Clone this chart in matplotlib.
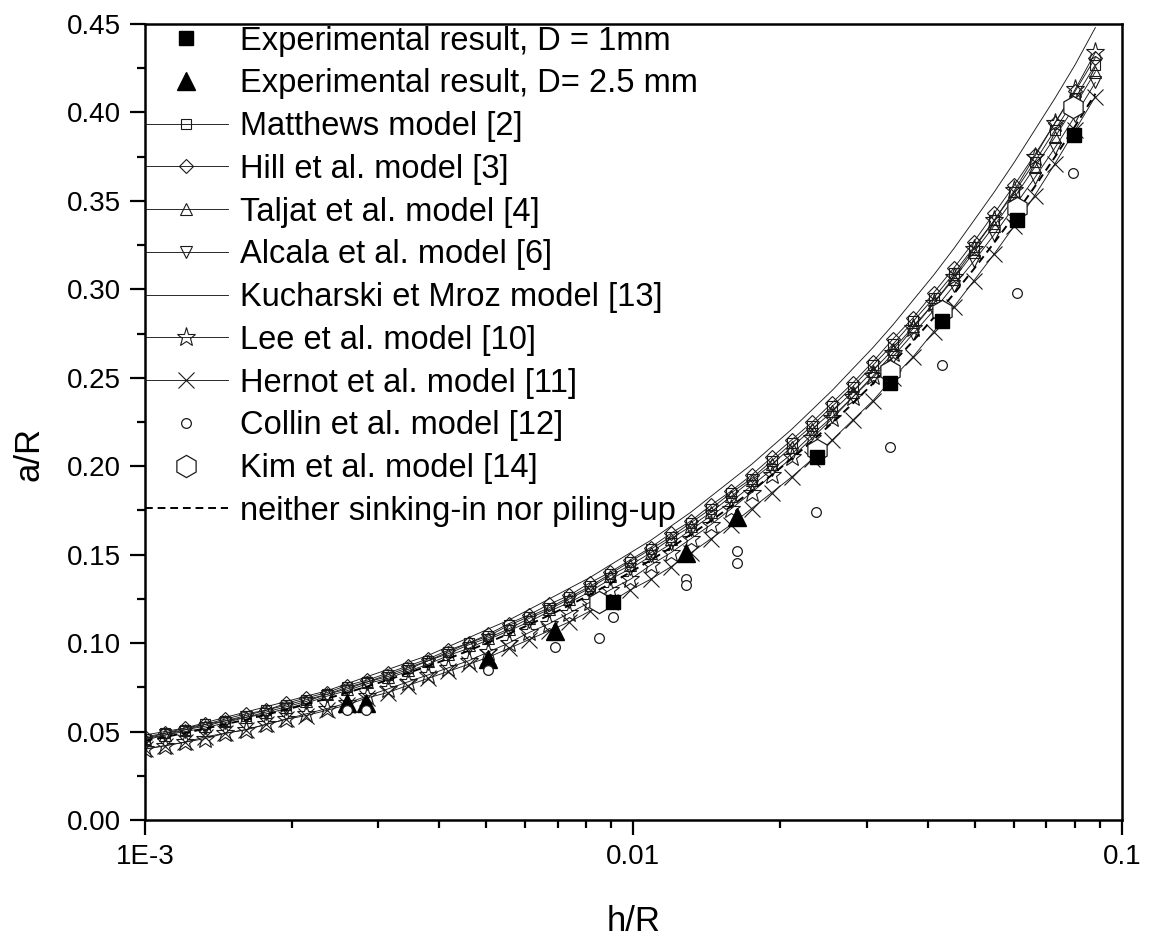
import matplotlib
matplotlib.use('Agg')
import matplotlib.pyplot as plt
import numpy as np
from matplotlib.ticker import FixedLocator, FixedFormatter, MultipleLocator, LogLocator, NullFormatter

plt.rcParams['font.family'] = ['Liberation Sans', 'DejaVu Sans']

# h/R grid of the model curves
hR = [0.00100, 0.00110, 0.00121, 0.00133, 0.00146, 0.00161, 0.00177, 0.00195,
      0.00214, 0.00236, 0.00259, 0.00285, 0.00314, 0.00345, 0.00380, 0.00418,
      0.00460, 0.00505, 0.00556, 0.00612, 0.00673, 0.00740, 0.00814, 0.00895,
      0.00985, 0.01084, 0.01192, 0.01311, 0.01442, 0.01586, 0.01745, 0.01919,
      0.02111, 0.02323, 0.02555, 0.02810, 0.03091, 0.03400, 0.03740, 0.04115,
      0.04526, 0.04979, 0.05476, 0.06024, 0.06626, 0.07289, 0.08018, 0.08820]

matthews = [0.046, 0.049, 0.051, 0.054, 0.056, 0.059, 0.062, 0.065, 0.068, 0.071, 0.075, 0.078,
            0.082, 0.086, 0.090, 0.095, 0.100, 0.104, 0.110, 0.115, 0.120, 0.126, 0.132, 0.139,
            0.146, 0.153, 0.160, 0.168, 0.176, 0.185, 0.193, 0.203, 0.213, 0.223, 0.234, 0.245,
            0.257, 0.269, 0.282, 0.295, 0.309, 0.324, 0.339, 0.355, 0.372, 0.390, 0.408, 0.427]
hill = [0.047, 0.049, 0.052, 0.054, 0.057, 0.060, 0.062, 0.066, 0.069, 0.072, 0.076, 0.079,
        0.083, 0.087, 0.091, 0.096, 0.100, 0.105, 0.111, 0.116, 0.122, 0.127, 0.134, 0.140,
        0.147, 0.154, 0.162, 0.169, 0.178, 0.186, 0.195, 0.205, 0.215, 0.225, 0.236, 0.247,
        0.259, 0.272, 0.284, 0.298, 0.312, 0.327, 0.343, 0.359, 0.376, 0.394, 0.412, 0.431]
taljat = [0.046, 0.048, 0.051, 0.053, 0.056, 0.058, 0.061, 0.064, 0.067, 0.071, 0.074, 0.078,
          0.081, 0.085, 0.090, 0.094, 0.099, 0.103, 0.108, 0.114, 0.119, 0.125, 0.131, 0.138,
          0.144, 0.151, 0.159, 0.166, 0.174, 0.183, 0.192, 0.201, 0.211, 0.221, 0.231, 0.242,
          0.254, 0.266, 0.279, 0.292, 0.306, 0.321, 0.336, 0.352, 0.369, 0.386, 0.404, 0.423]
alcala = [0.045, 0.048, 0.050, 0.052, 0.055, 0.058, 0.060, 0.063, 0.066, 0.070, 0.073, 0.077,
          0.080, 0.084, 0.088, 0.093, 0.097, 0.102, 0.107, 0.112, 0.118, 0.123, 0.129, 0.136,
          0.142, 0.149, 0.156, 0.164, 0.172, 0.180, 0.189, 0.198, 0.207, 0.218, 0.228, 0.239,
          0.250, 0.262, 0.275, 0.288, 0.302, 0.316, 0.331, 0.347, 0.363, 0.380, 0.398, 0.417]
kucharski = [0.048, 0.050, 0.052, 0.055, 0.058, 0.061, 0.064, 0.067, 0.070, 0.073, 0.077, 0.081,
             0.085, 0.089, 0.093, 0.098, 0.103, 0.108, 0.113, 0.119, 0.125, 0.131, 0.137, 0.144,
             0.151, 0.158, 0.166, 0.174, 0.183, 0.192, 0.201, 0.211, 0.221, 0.232, 0.243, 0.255,
             0.267, 0.280, 0.294, 0.308, 0.323, 0.339, 0.355, 0.372, 0.390, 0.408, 0.427, 0.448]
lee = [0.040, 0.042, 0.044, 0.046, 0.049, 0.051, 0.054, 0.057, 0.060, 0.063, 0.066, 0.070,
       0.074, 0.078, 0.082, 0.086, 0.090, 0.095, 0.100, 0.106, 0.111, 0.117, 0.123, 0.130,
       0.136, 0.144, 0.151, 0.159, 0.167, 0.176, 0.185, 0.195, 0.205, 0.216, 0.227, 0.239,
       0.251, 0.264, 0.278, 0.292, 0.307, 0.323, 0.339, 0.356, 0.375, 0.394, 0.413, 0.434]
hernot = [0.040, 0.042, 0.044, 0.047, 0.049, 0.051, 0.054, 0.057, 0.059, 0.062, 0.065, 0.069,
          0.072, 0.076, 0.080, 0.084, 0.088, 0.092, 0.097, 0.102, 0.107, 0.112, 0.118, 0.123,
          0.130, 0.136, 0.143, 0.151, 0.159, 0.167, 0.176, 0.185, 0.194, 0.204, 0.215, 0.226,
          0.237, 0.250, 0.262, 0.276, 0.290, 0.305, 0.320, 0.336, 0.353, 0.371, 0.390, 0.409]
neither = [0.0447, 0.0469, 0.0492, 0.0516, 0.0541, 0.0567, 0.0595, 0.0624, 0.0654, 0.0686,
           0.0719, 0.0754, 0.0791, 0.0830, 0.0870, 0.0912, 0.0957, 0.1004, 0.1053, 0.1104,
           0.1158, 0.1214, 0.1273, 0.1335, 0.1400, 0.1468, 0.1539, 0.1614, 0.1692, 0.1774,
           0.1860, 0.1950, 0.2044, 0.2143, 0.2246, 0.2354, 0.2467, 0.2586, 0.2709, 0.2839,
           0.2974, 0.3116, 0.3264, 0.3418, 0.3580, 0.3748, 0.3923, 0.4106]

# experimental points
exp1_x = [0.0091, 0.0238, 0.0335, 0.0428, 0.0610, 0.0798]
exp1_y = [0.123, 0.205, 0.247, 0.282, 0.339, 0.387]
exp2_x = [0.00259, 0.00283, 0.00504, 0.0069, 0.0128, 0.0163]
exp2_y = [0.066, 0.066, 0.091, 0.107, 0.151, 0.171]

collin_x = [0.00259, 0.00283, 0.00504, 0.0069, 0.0085, 0.0091, 0.0128, 0.0128,
            0.0163, 0.0163, 0.0236, 0.0335, 0.0428, 0.0610, 0.0795]
collin_y = [0.062, 0.062, 0.085, 0.098, 0.103, 0.115, 0.136, 0.133,
            0.152, 0.145, 0.174, 0.211, 0.257, 0.298, 0.366]
kim_x = [0.0085, 0.0238, 0.0335, 0.0428, 0.0610, 0.0795]
kim_y = [0.123, 0.209, 0.254, 0.288, 0.346, 0.403]

fig = plt.figure(figsize=(11.49, 9.43), dpi=100)
ax = fig.add_axes([0.126, 0.1305, 0.8505, 0.844])

lc = '#1a1a1a'
lw = 0.65
mk = dict(mfc='none', mec=lc, mew=0.8)

ax.plot(exp1_x, exp1_y, 's', color='k', ms=10, zorder=6, label='Experimental result, D = 1mm')
ax.plot(exp2_x, exp2_y, '^', color='k', ms=13, zorder=6, label='Experimental result, D= 2.5 mm')
ax.plot(hR, matthews, '-', color=lc, lw=lw, marker='s', ms=7, **mk, label='Matthews model [2]')
ax.plot(hR, hill, '-', color=lc, lw=lw, marker='D', ms=7, **mk, label='Hill et al. model [3]')
ax.plot(hR, taljat, '-', color=lc, lw=lw, marker='^', ms=9, **mk, label='Taljat et al. model [4]')
ax.plot(hR, alcala, '-', color=lc, lw=lw, marker='v', ms=9, **mk, label='Alcala et al. model [6]')
ax.plot(hR, kucharski, '-', color=lc, lw=lw, label='Kucharski et Mroz model [13]')
ax.plot(hR, lee, '-', color=lc, lw=lw, marker='*', ms=14, **mk, label='Lee et al. model [10]')
ax.plot(hR, hernot, '-', color=lc, lw=lw, marker='x', ms=12, mec=lc, mew=0.8, label='Hernot et al. model [11]')
ax.plot(collin_x, collin_y, 'o', ms=7, mfc='white', mec=lc, mew=0.9, zorder=7, label='Collin et al. model [12]')
ax.plot(kim_x, kim_y, 'h', ms=16, mfc='white', mec=lc, mew=0.9, zorder=5, label='Kim et al. model [14]')
ax.plot(hR, neither, '--', color='k', lw=1.4, dashes=(4, 2.5), zorder=4, label='neither sinking-in nor piling-up')

ax.set_xscale('log')
ax.set_xlim(1e-3, 0.1)
ax.set_ylim(0, 0.45)

ax.xaxis.set_major_locator(FixedLocator([1e-3, 1e-2, 1e-1]))
ax.xaxis.set_major_formatter(FixedFormatter(['1E-3', '0.01', '0.1']))
ax.xaxis.set_minor_locator(LogLocator(base=10, subs=np.arange(2, 10)))
ax.xaxis.set_minor_formatter(NullFormatter())
ax.yaxis.set_major_locator(MultipleLocator(0.05))
ax.yaxis.set_minor_locator(MultipleLocator(0.025))
ax.yaxis.set_major_formatter(plt.FormatStrFormatter('%.2f'))

ax.tick_params(which='both', direction='out', width=1.6, labelsize=20, top=False, right=False)
ax.tick_params(which='major', length=11, pad=6)
ax.tick_params(which='minor', length=5.5)
for s in ax.spines.values():
    s.set_linewidth(1.8)

ax.set_xlabel('h/R', fontsize=25)
ax.set_ylabel('a/R', fontsize=25)
ax.xaxis.set_label_coords(0.5, -0.107)
ax.yaxis.set_label_coords(-0.102, 0.46)

ax.legend(loc='upper left', bbox_to_anchor=(0, 0.998), frameon=False, fontsize=23.5, numpoints=1,
          borderpad=0, borderaxespad=0.0, handlelength=2.55, handletextpad=0.37,
          labelspacing=0.36)

fig.savefig('out.png', dpi=100)
